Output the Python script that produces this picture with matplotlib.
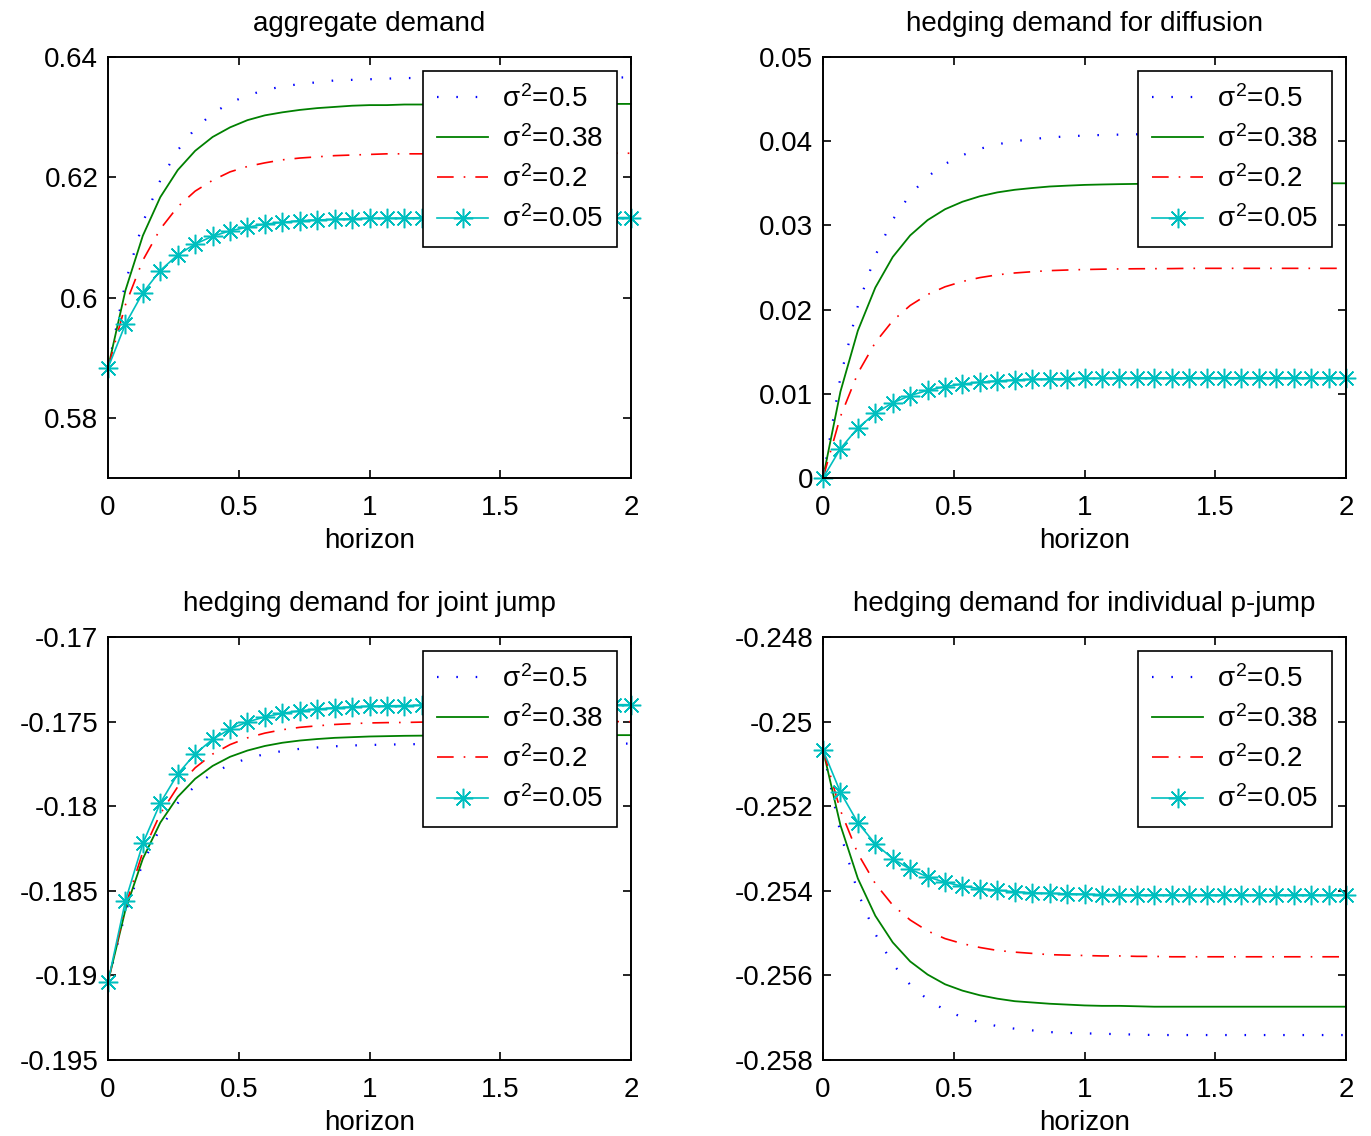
import matplotlib
matplotlib.use("Agg")
import matplotlib.pyplot as plt

plt.rcParams['font.family'] = ['Liberation Sans', 'DejaVu Sans']
plt.rcParams['mathtext.fontset'] = 'custom'
plt.rcParams['mathtext.rm'] = 'Liberation Sans'
plt.rcParams['mathtext.it'] = 'Liberation Sans'
plt.rcParams['mathtext.bf'] = 'Liberation Sans:bold'

# horizon grid (31 points, 0..2)
horizon = [0, 0.0667, 0.1333, 0.2, 0.2667, 0.3333, 0.4, 0.4667, 0.5333, 0.6,
           0.6667, 0.7333, 0.8, 0.8667, 0.9333, 1.0, 1.0667, 1.1333, 1.2, 1.2667,
           1.3333, 1.4, 1.4667, 1.5333, 1.6, 1.6667, 1.7333, 1.8, 1.8667, 1.9333, 2.0]

labels = [r'$\sigma^2$=0.5', r'$\sigma^2$=0.38', r'$\sigma^2$=0.2', r'$\sigma^2$=0.05']

# aggregate demand
agg_05 = [0.5883, 0.6025, 0.6125, 0.6195, 0.6245, 0.6281, 0.6306, 0.6324, 0.6336, 0.6345,
          0.6351, 0.6355, 0.6358, 0.6361, 0.6362, 0.6363, 0.6364, 0.6365, 0.6365, 0.6366,
          0.6366, 0.6366, 0.6366, 0.6366, 0.6366, 0.6366, 0.6366, 0.6366, 0.6366, 0.6366, 0.6366]
agg_038 = [0.5883, 0.6012, 0.6103, 0.6167, 0.6212, 0.6244, 0.6267, 0.6283, 0.6295, 0.6303,
           0.6308, 0.6312, 0.6315, 0.6317, 0.6319, 0.6320, 0.6320, 0.6321, 0.6321, 0.6322,
           0.6322, 0.6322, 0.6322, 0.6322, 0.6322, 0.6322, 0.6322, 0.6322, 0.6322, 0.6322, 0.6322]
agg_02 = [0.5883, 0.5988, 0.6062, 0.6114, 0.6151, 0.6177, 0.6195, 0.6209, 0.6218, 0.6224,
          0.6229, 0.6232, 0.6234, 0.6236, 0.6237, 0.6238, 0.6239, 0.6239, 0.6239, 0.6240,
          0.6240, 0.6240, 0.6240, 0.6240, 0.6240, 0.6240, 0.6240, 0.6240, 0.6240, 0.6240, 0.6240]
agg_005 = [0.5883, 0.5956, 0.6008, 0.6045, 0.6071, 0.6089, 0.6102, 0.6111, 0.6117, 0.6122,
           0.6125, 0.6128, 0.6129, 0.6130, 0.6131, 0.6132, 0.6132, 0.6132, 0.6133, 0.6133,
           0.6133, 0.6133, 0.6133, 0.6133, 0.6133, 0.6133, 0.6133, 0.6133, 0.6133, 0.6133, 0.6133]

# hedging demand for diffusion
dif_05 = [0, 0.01198, 0.02045, 0.02642, 0.03068, 0.03366, 0.03579, 0.0373, 0.03834, 0.0391,
          0.03963, 0.04, 0.04025, 0.04045, 0.04057, 0.04067, 0.04074, 0.04078, 0.04082, 0.04084,
          0.04086, 0.0409, 0.0409, 0.0409, 0.0409, 0.0409, 0.0409, 0.0409, 0.0409, 0.0409, 0.0409]
dif_038 = [0, 0.01026, 0.0175, 0.02261, 0.02625, 0.02881, 0.03063, 0.03192, 0.03281, 0.03346,
           0.03392, 0.03423, 0.03444, 0.03462, 0.03472, 0.03481, 0.03486, 0.0349, 0.03493, 0.03495,
           0.03497, 0.035, 0.035, 0.035, 0.035, 0.035, 0.035, 0.035, 0.035, 0.035, 0.035]
dif_02 = [0, 0.0073, 0.01245, 0.01609, 0.01868, 0.02049, 0.02179, 0.02271, 0.02334, 0.0238,
          0.02413, 0.02435, 0.0245, 0.02463, 0.0247, 0.02476, 0.0248, 0.02483, 0.02485, 0.02486,
          0.02487, 0.0249, 0.0249, 0.0249, 0.0249, 0.0249, 0.0249, 0.0249, 0.0249, 0.0249, 0.0249]
dif_005 = [0, 0.00349, 0.00595, 0.00769, 0.00893, 0.00979, 0.01041, 0.01085, 0.01116, 0.01138,
           0.01153, 0.01164, 0.01171, 0.01177, 0.0118, 0.01183, 0.01185, 0.01186, 0.01188, 0.01188,
           0.01189, 0.0119, 0.0119, 0.0119, 0.0119, 0.0119, 0.0119, 0.0119, 0.0119, 0.0119, 0.0119]

# hedging demand for joint jump
jnt_05 = [-0.1904, -0.18627, -0.18335, -0.18129, -0.17982, -0.1788, -0.17806, -0.17754, -0.17718, -0.17692,
          -0.17674, -0.17661, -0.17653, -0.17646, -0.17641, -0.17638, -0.17636, -0.17634, -0.17633, -0.17632,
          -0.17631, -0.1763, -0.1763, -0.1763, -0.1763, -0.1763, -0.1763, -0.1763, -0.1763, -0.1763, -0.1763]
jnt_038 = [-0.1904, -0.18612, -0.1831, -0.18097, -0.17945, -0.17838, -0.17762, -0.17708, -0.17671, -0.17644,
           -0.17625, -0.17612, -0.17603, -0.17596, -0.17592, -0.17588, -0.17586, -0.17584, -0.17583, -0.17582,
           -0.17581, -0.1758, -0.1758, -0.1758, -0.1758, -0.1758, -0.1758, -0.1758, -0.1758, -0.1758, -0.1758]
jnt_02 = [-0.1904, -0.18589, -0.1827, -0.18045, -0.17885, -0.17773, -0.17692, -0.17636, -0.17596, -0.17568,
          -0.17548, -0.17534, -0.17525, -0.17517, -0.17512, -0.17508, -0.17506, -0.17505, -0.17503, -0.17502,
          -0.17502, -0.175, -0.175, -0.175, -0.175, -0.175, -0.175, -0.175, -0.175, -0.175, -0.175]
jnt_005 = [-0.1904, -0.18559, -0.1822, -0.17981, -0.1781, -0.1769, -0.17605, -0.17544, -0.17502, -0.17472,
           -0.17451, -0.17436, -0.17426, -0.17418, -0.17413, -0.17409, -0.17407, -0.17405, -0.17403, -0.17402,
           -0.17402, -0.174, -0.174, -0.174, -0.174, -0.174, -0.174, -0.174, -0.174, -0.174, -0.174]

# hedging demand for individual p-jump
ind_05 = [-0.25067, -0.25264, -0.25404, -0.25502, -0.25573, -0.25622, -0.25657, -0.25682, -0.25699, -0.25711,
          -0.2572, -0.25726, -0.2573, -0.25734, -0.25736, -0.25737, -0.25738, -0.25739, -0.2574, -0.25741,
          -0.25741, -0.25741, -0.25741, -0.25741, -0.25741, -0.25741, -0.25741, -0.25741, -0.25741, -0.25741, -0.25741]
ind_038 = [-0.25067, -0.25245, -0.25371, -0.25459, -0.25522, -0.25567, -0.25598, -0.25621, -0.25636, -0.25647,
           -0.25655, -0.25661, -0.25664, -0.25667, -0.25669, -0.25671, -0.25672, -0.25672, -0.25673, -0.25674,
           -0.25674, -0.25674, -0.25674, -0.25674, -0.25674, -0.25674, -0.25674, -0.25674, -0.25674, -0.25674, -0.25674]
ind_02 = [-0.25067, -0.2521, -0.25312, -0.25383, -0.25434, -0.25469, -0.25495, -0.25513, -0.25525, -0.25534,
          -0.25541, -0.25545, -0.25548, -0.25551, -0.25552, -0.25553, -0.25554, -0.25554, -0.25555, -0.25555,
          -0.25556, -0.25556, -0.25556, -0.25556, -0.25556, -0.25556, -0.25556, -0.25556, -0.25556, -0.25556, -0.25556]
ind_005 = [-0.25067, -0.25167, -0.25239, -0.25289, -0.25324, -0.25349, -0.25367, -0.2538, -0.25389, -0.25395,
           -0.25399, -0.25402, -0.25405, -0.25406, -0.25407, -0.25408, -0.25409, -0.25409, -0.2541, -0.2541,
           -0.2541, -0.2541, -0.2541, -0.2541, -0.2541, -0.2541, -0.2541, -0.2541, -0.2541, -0.2541, -0.2541]

titles = ['aggregate demand', 'hedging demand for diffusion',
          'hedging demand for joint jump', 'hedging demand for individual p-jump']
xticks = [0, 0.5, 1, 1.5, 2]
xticklabels = ['0', '0.5', '1', '1.5', '2']
yticks = [[0.58, 0.60, 0.62, 0.64],
          [0, 0.01, 0.02, 0.03, 0.04, 0.05],
          [-0.195, -0.19, -0.185, -0.18, -0.175, -0.17],
          [-0.258, -0.256, -0.254, -0.252, -0.25, -0.248]]
yticklabels = [['0.58', '0.6', '0.62', '0.64'],
               ['0', '0.01', '0.02', '0.03', '0.04', '0.05'],
               ['-0.195', '-0.19', '-0.185', '-0.18', '-0.175', '-0.17'],
               ['-0.258', '-0.256', '-0.254', '-0.252', '-0.25', '-0.248']]
ylims = [(0.57, 0.64), (0, 0.05), (-0.195, -0.17), (-0.258, -0.248)]
panels = [[agg_05, agg_038, agg_02, agg_005],
          [dif_05, dif_038, dif_02, dif_005],
          [jnt_05, jnt_038, jnt_02, jnt_005],
          [ind_05, ind_038, ind_02, ind_005]]

# line styles for the four sigma^2 values (matlab-ish)
styles = [dict(color=(0, 0, 1), linestyle=(0, (0.7, 8)), lw=1.6),
          dict(color=(0, 0.5, 0), linestyle='-', lw=1.3),
          dict(color=(1, 0, 0), linestyle=(0, (10, 6, 1, 6)), lw=1.2),
          dict(color=(0, 0.75, 0.75), linestyle='-', lw=1.2, marker=(8, 2, 0), ms=14, mew=1.1)]

W, H = 1371, 1136
boxes = [(108, 57, 631, 478), (823, 57, 1346, 478),
         (108, 637, 631, 1060), (823, 637, 1346, 1060)]

fig = plt.figure(figsize=(W / 100, H / 100), dpi=100)
fs = 20

for k in range(4):
    l, t, r, b = boxes[k]
    ax = fig.add_axes([l / W, 1 - b / H, (r - l) / W, (b - t) / H])
    for series, st, lab in zip(panels[k], styles, labels):
        ax.plot(horizon, series, label=lab, clip_on=False, **st)
    ax.set_xlim(0, 2)
    ax.set_ylim(*ylims[k])
    ax.set_xticks(xticks)
    ax.set_xticklabels(xticklabels)
    ax.set_yticks(yticks[k])
    ax.set_yticklabels(yticklabels[k])
    ax.tick_params(direction='in', top=True, right=True, length=6, width=1.2,
                   labelsize=fs)
    ax.tick_params(axis='x', pad=12)
    ax.tick_params(axis='y', pad=7)
    for sp in ax.spines.values():
        sp.set_linewidth(1.4)
    ax.set_title(titles[k], fontsize=fs, pad=19)
    ax.set_xlabel('horizon', fontsize=fs, labelpad=5)
    leg = ax.legend(loc='upper right', fontsize=fs, handlelength=1.85, handletextpad=0.5,
                    labelspacing=0.45, borderpad=0.5, borderaxespad=0.5,
                    fancybox=False, framealpha=1, edgecolor='k')
    leg.get_frame().set_linewidth(1.2)

plt.savefig("out.png", dpi=100)
